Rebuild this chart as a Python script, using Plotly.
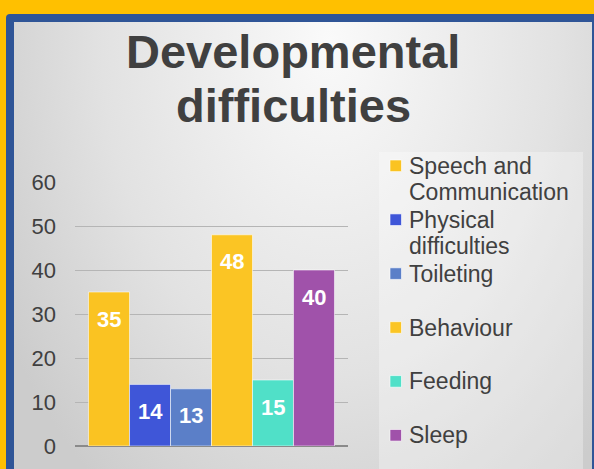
import base64

import plotly.graph_objects as go

W, H = 594, 469

# chart data
categories = [
    "Speech and Communication",
    "Physical difficulties",
    "Toileting",
    "Behaviour",
    "Feeding",
    "Sleep",
]
values = [35, 14, 13, 48, 15, 40]
legend_lines = [
    ["Speech and", "Communication"],
    ["Physical", "difficulties"],
    ["Toileting"],
    ["Behaviour"],
    ["Feeding"],
    ["Sleep"],
]
bar_colors = ["#FAC322", "#3F56D8", "#5B7FC8", "#FBC524", "#50E0C8", "#A052AA"]
y_ticks = [0, 10, 20, 30, 40, 50, 60]
title_lines = ["Developmental", "difficulties"]

FONT = "Liberation Sans, Arial, sans-serif"
TEXT_COLOR = "#404040"


def fx(p):
    """pixel -> paper x"""
    return p / W


def fy(p):
    """pixel (from top) -> paper y"""
    return 1 - p / H


# slide-like background: yellow page, blue frame, grey radial gradient
svg = f"""<svg xmlns="http://www.w3.org/2000/svg" width="{W}" height="{H}" viewBox="0 0 {W} {H}">
<defs><radialGradient id="g" gradientUnits="userSpaceOnUse" cx="0" cy="0" r="1"
gradientTransform="translate(330 40) scale(380 560)">
<stop offset="0" stop-color="#FAFAFA"/><stop offset="0.6" stop-color="#E2E2E2"/>
<stop offset="1" stop-color="#CCCCCC"/></radialGradient></defs>
<rect x="0" y="0" width="{W}" height="{H}" fill="#FFC000"/>
<rect x="6" y="14" width="{W}" height="{H}" rx="4" fill="#2F5597"/>
<rect x="14" y="22" width="{W - 16}" height="{H}" fill="url(#g)"/>
</svg>"""
bg_src = "data:image/svg+xml;base64," + base64.b64encode(svg.encode()).decode()

fig = go.Figure()
for cat, val, color in zip(categories, values, bar_colors):
    fig.add_trace(
        go.Bar(
            x=[cat],
            y=[val],
            name=cat,
            width=1,
            marker={"color": color, "line": {"color": "rgba(255,255,255,0.55)", "width": 1}},
            hoverinfo="skip",
        )
    )

# value labels inside the bars
annotations = [
    dict(
        x=cat,
        y=val,
        yshift=-27,
        text=f"<b>{val}</b>",
        showarrow=False,
        font={"family": FONT, "size": 22, "color": "white"},
        yanchor="middle",
    )
    for cat, val in zip(categories, values)
]

# two-line title, tight line spacing
for i, line in enumerate(title_lines):
    annotations.append(
        dict(
            x=fx(293),
            y=fy(51.5 + 54 * i),
            xref="paper",
            yref="paper",
            text=f"<b>{line}</b>",
            showarrow=False,
            font={"family": FONT, "size": 47, "color": TEXT_COLOR},
            xanchor="center",
            yanchor="middle",
        )
    )

# legend box with wrapped labels
shapes = [
    dict(
        type="rect",
        xref="paper",
        yref="paper",
        x0=fx(379),
        x1=fx(583),
        y0=0,
        y1=fy(152),
        fillcolor="rgba(255,255,255,0.3)",
        line={"width": 0},
        layer="below",
    )
]
ITEM_TOP, ITEM_STEP, LINE_STEP = 165.8, 53.9, 26.7
for i, (lines, color) in enumerate(zip(legend_lines, bar_colors)):
    cy = ITEM_TOP + ITEM_STEP * i
    shapes.append(
        dict(
            type="rect",
            xref="paper",
            yref="paper",
            x0=fx(390),
            x1=fx(401.5),
            y0=fy(cy + 5.8),
            y1=fy(cy - 5.8),
            fillcolor=color,
            line={"color": "rgba(255,255,255,0.6)", "width": 1},
        )
    )
    for j, text in enumerate(lines):
        annotations.append(
            dict(
                x=fx(407),
                y=fy(cy + LINE_STEP * j),
                xref="paper",
                yref="paper",
                text=text,
                showarrow=False,
                font={"family": FONT, "size": 23, "color": TEXT_COLOR},
                xanchor="left",
                yanchor="middle",
            )
        )

fig.update_layout(
    width=W,
    height=H,
    margin={"l": 0, "r": 0, "t": 0, "b": 0, "autoexpand": False},
    paper_bgcolor="#FFC000",
    plot_bgcolor="rgba(0,0,0,0)",
    barmode="relative",
    showlegend=False,
    font={"family": FONT, "color": TEXT_COLOR},
    images=[
        dict(
            source=bg_src,
            xref="paper",
            yref="paper",
            x=0,
            y=1,
            sizex=1,
            sizey=1,
            xanchor="left",
            yanchor="top",
            sizing="stretch",
            layer="below",
        )
    ],
    shapes=shapes,
    xaxis={
        "domain": [fx(75), fx(348)],
        "range": [-0.83, len(categories) - 0.17],
        "showticklabels": False,
        "showgrid": False,
        "zeroline": False,
        "showline": False,
        "ticks": "",
    },
    yaxis={
        "domain": [fy(446), fy(182)],
        "range": [0, 60],
        "tickvals": y_ticks,
        "tickfont": {"family": FONT, "size": 22, "color": TEXT_COLOR},
        "ticklabelstandoff": 18,
        "gridcolor": "#B5B5B5",
        "gridwidth": 1,
        "zeroline": True,
        "zerolinecolor": "#8A8A8A",
        "zerolinewidth": 1.5,
        "showline": False,
        "ticks": "",
    },
    annotations=annotations,
)

fig.write_html(
    "out.html",
    config={"displayModeBar": False},
    post_script="document.body.style.margin='0';document.body.style.overflow='hidden';",
)
